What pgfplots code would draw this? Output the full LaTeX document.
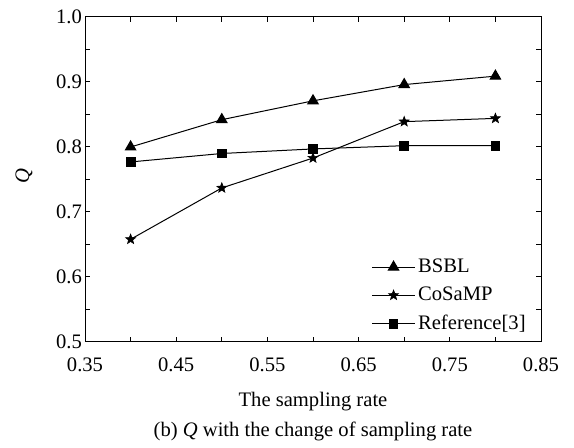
\documentclass[border=0pt]{standalone}
\usepackage{fontspec}
\setmainfont{Liberation Serif}
\usepackage{pgfplots}
\pgfplotsset{compat=1.18}

% filled five-pointed star
\pgfdeclareplotmark{fstar}{%
  \pgfpathmoveto{\pgfpointpolar{90}{\pgfplotmarksize}}%
  \pgfpathlineto{\pgfpointpolar{126}{0.42\pgfplotmarksize}}%
  \pgfpathlineto{\pgfpointpolar{162}{\pgfplotmarksize}}%
  \pgfpathlineto{\pgfpointpolar{198}{0.42\pgfplotmarksize}}%
  \pgfpathlineto{\pgfpointpolar{234}{\pgfplotmarksize}}%
  \pgfpathlineto{\pgfpointpolar{270}{0.42\pgfplotmarksize}}%
  \pgfpathlineto{\pgfpointpolar{306}{\pgfplotmarksize}}%
  \pgfpathlineto{\pgfpointpolar{342}{0.42\pgfplotmarksize}}%
  \pgfpathlineto{\pgfpointpolar{18}{\pgfplotmarksize}}%
  \pgfpathlineto{\pgfpointpolar{54}{0.42\pgfplotmarksize}}%
  \pgfpathclose\pgfusepathqfillstroke}

\begin{document}
\begin{tikzpicture}[font=\fontsize{10.3}{12}\selectfont]
\begin{axis}[
    scale only axis,
    width=228pt, height=162.5pt,
    xmin=0.35, xmax=0.85, ymin=0.5, ymax=1.0,
    xtick={0.35,0.45,0.55,0.65,0.75,0.85}, minor xtick={0.40,0.50,0.60,0.70,0.80},
    xticklabels={0.35,0.45,0.55,0.65,0.75,0.85},
    ytick={0.5,0.6,0.7,0.8,0.9,1.0}, minor ytick={0.55,0.65,0.75,0.85,0.95},
    yticklabels={0.5,0.6,0.7,0.8,0.9,1.0},
    major tick length=2.5pt, minor tick length=2.5pt,
    tick align=inside,
    tick style={black, line width=0.5pt},
    axis line style={line width=0.5pt},
    xticklabel style={yshift=-4.5pt},
    yticklabel style={xshift=2pt},
    xlabel={The sampling rate},
    every axis x label/.style={at={(axis description cs:0.5,0)}, anchor=center, yshift=-30pt},
    ylabel={\textit{Q}},
    every axis y label/.style={at={(axis description cs:-0.134,0.51)}, anchor=center, rotate=90},
    legend style={draw=none, fill=none, at={(rel axis cs:1,0)}, anchor=south east,
                  xshift=-5pt, yshift=2pt, row sep=2.75pt, inner sep=1pt,
                  nodes={inner sep=1.5pt}},
    legend cell align=left,
    legend image code/.code={%
      \draw[mark repeat=2, mark phase=2] plot coordinates {(0cm,0cm) (0.37cm,0cm) (0.74cm,0cm)};},
]
\addplot[black, line width=0.5pt, mark=triangle*, mark size=3pt] coordinates {
  (0.4,0.800) (0.5,0.842) (0.6,0.871) (0.7,0.896) (0.8,0.909)};
\addlegendentry{BSBL}
\addplot[black, line width=0.5pt, mark=fstar, mark size=2.6pt, mark options={line width=0.3pt}] coordinates {
  (0.4,0.658) (0.5,0.737) (0.6,0.783) (0.7,0.839) (0.8,0.844)};
\addlegendentry{CoSaMP}
\addplot[black, line width=0.5pt, mark=square*, mark size=2.2pt] coordinates {
  (0.4,0.777) (0.5,0.790) (0.6,0.797) (0.7,0.802) (0.8,0.802)};
\addlegendentry{Reference[3]}
\end{axis}
\node at ([yshift=-44.5pt]current axis.south) {(b) \textit{Q} with the change of sampling rate};
\path ([xshift=-42.5pt,yshift=-50pt]current axis.south west) rectangle ([xshift=16.5pt,yshift=8.5pt]current axis.north east);
\end{tikzpicture}
\end{document}
